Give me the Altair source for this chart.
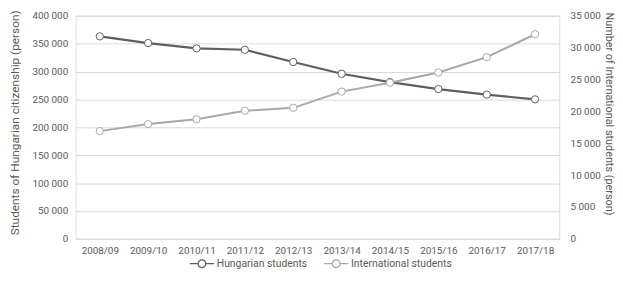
import altair as alt
import pandas as pd

seasons = ["2008/09", "2009/10", "2010/11", "2011/12", "2012/13",
           "2013/14", "2014/15", "2015/16", "2016/17", "2017/18"]
hungarian = [363000, 351000, 341500, 339000, 317000, 296000, 281000, 268500, 258500, 250000]
international = [16900, 18000, 18750, 20100, 20550, 23100, 24500, 26100, 28500, 32100]
series_names = ["Hungarian students", "International students"]
series_colors = ["#5f5f5f", "#a8a8a8"]
left_ticks = [0, 50000, 100000, 150000, 200000, 250000, 300000, 350000, 400000]
right_ticks = [0, 5000, 10000, 15000, 20000, 25000, 30000, 35000]

df_h = pd.DataFrame({"season": seasons, "value": hungarian, "series": series_names[0]})
df_i = pd.DataFrame({"season": seasons, "value": international, "series": series_names[1]})

FONT = "Roboto, Liberation Sans, sans-serif"
TXT = "#595959"
space_fmt = "replace(format(datum.value, ','), ',', ' ')"

x = alt.X("season:N", sort=seasons,
          axis=alt.Axis(title=None, labelAngle=0, ticks=False, domain=True,
                        domainColor="#d9d9d9", labelPadding=7, labelFontSize=10,
                        labelColor=TXT, labelFont=FONT))

sym = ("M-1,0L-0.32,0M0.32,0L1,0M-0.32,0A0.32,0.32 0 1,1 0.32,0"
       "A0.32,0.32 0 1,1 -0.32,0Z")
color = alt.Color("series:N",
                  scale=alt.Scale(domain=series_names, range=series_colors),
                  legend=alt.Legend(title=None, orient="none", direction="horizontal",
                                    legendX=115, legendY=238, symbolType=sym,
                                    symbolSize=600, symbolStrokeWidth=1.3,
                                    symbolFillColor="white", labelFontSize=10.5,
                                    labelColor=TXT, labelFont=FONT, labelOffset=2,
                                    columnPadding=14))

y_left = alt.Y("value:Q", scale=alt.Scale(domain=[0, 400000]),
               axis=alt.Axis(orient="left", values=left_ticks, labelExpr=space_fmt,
                             title="Students of Hungarian citizenship (person)",
                             titleX=-62, titleY=108, titleAngle=-90,
                             titleBaseline="middle", titleAlign="center",
                             titleFontSize=12, titleFontWeight="normal",
                             titleColor=TXT, titleFont=FONT,
                             labelPadding=8, labelFontSize=10, labelColor=TXT,
                             labelFont=FONT, ticks=False, domain=False,
                             grid=True, gridColor="#d9d9d9"))
y_right = alt.Y("value:Q", scale=alt.Scale(domain=[0, 35000]),
                axis=alt.Axis(orient="right", values=right_ticks, labelExpr=space_fmt,
                              title="Number of International students (person)",
                              titleX=50, titleY=99, titleAngle=90,
                              titleBaseline="middle", titleAlign="center",
                              titleFontSize=11, titleFontWeight="normal",
                              titleColor=TXT, titleFont=FONT,
                              labelPadding=11, labelFontSize=10, labelColor=TXT,
                              labelFont=FONT, ticks=False, domain=False, grid=False))

def layer(df, y, sw):
    line = alt.Chart(df).mark_line(strokeWidth=sw).encode(x=x, y=y, color=color)
    pts = alt.Chart(df).mark_point(shape="circle", fill="white", filled=False, size=55,
                                   strokeWidth=1, opacity=1).encode(
        x=x, y=y, color=color)
    return alt.layer(line, pts)

intl = layer(df_i, y_right, 2)
hung = layer(df_h, y_left, 2.2)

chart = alt.layer(hung, intl).resolve_scale(y="independent").properties(
    width=490, height=226,
    autosize=alt.AutoSizeParams(type="none"),
    padding={"left": 68.5, "top": 6, "right": 56.5, "bottom": 50},
).configure_view(stroke=None).configure(font=FONT)

chart.save("out.html", embed_options={"renderer": "svg", "actions": False})
